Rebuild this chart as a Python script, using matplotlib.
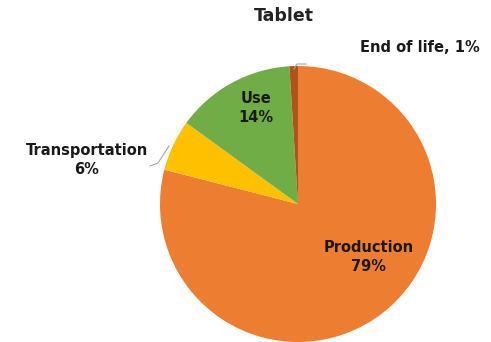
import matplotlib.pyplot as plt

# share of lifecycle impact for a tablet
stages = ["Production", "Transportation", "Use", "End of life"]
shares = [79, 6, 14, 1]
colors = ["#ED7D31", "#FFC000", "#70AD47", "#AE531A"]

plt.rcParams['font.family'] = ['DejaVu Sans']

W, H = 491, 342
fig = plt.figure(figsize=(W / 100, H / 100), dpi=100)

cx, cy, r = 298, 204, 138
ax = fig.add_axes([(cx - r) / W, (H - cy - r) / H, 2 * r / W, 2 * r / H])
ax.pie(shares, colors=colors, startangle=90, counterclock=False,
       wedgeprops=dict(linewidth=0))
ax.set_xlim(-1, 1)
ax.set_ylim(-1, 1)
ax.axis("off")


def px(x, y):
    return x / W, 1 - y / H


fig.text(*px(284, 16), "Tablet", ha="center", va="center",
         fontsize=12.5, fontweight="bold", color="#222222")

lab = dict(ha="center", va="center", fontsize=10.5, fontweight="bold",
           color="#1a1a1a", linespacing=1.3)
fig.text(*px(369, 257), f"{stages[0]}\n{shares[0]}%", **lab)
fig.text(*px(87, 160), f"{stages[1]}\n{shares[1]}%", **lab)
fig.text(*px(256, 108), f"{stages[2]}\n{shares[2]}%", **lab)
fig.text(*px(420, 47), f"{stages[3]}, {shares[3]}%", **lab)

# leader lines for the two outside labels
for pts in ([(294, 69), (297, 64), (306, 64)],
            [(169, 146), (158, 163), (150, 166)]):
    xs, ys = zip(*[px(x, y) for x, y in pts])
    fig.add_artist(plt.Line2D(xs, ys, color="#a6a6a6", lw=0.8))

fig.savefig("out.png", dpi=100)
